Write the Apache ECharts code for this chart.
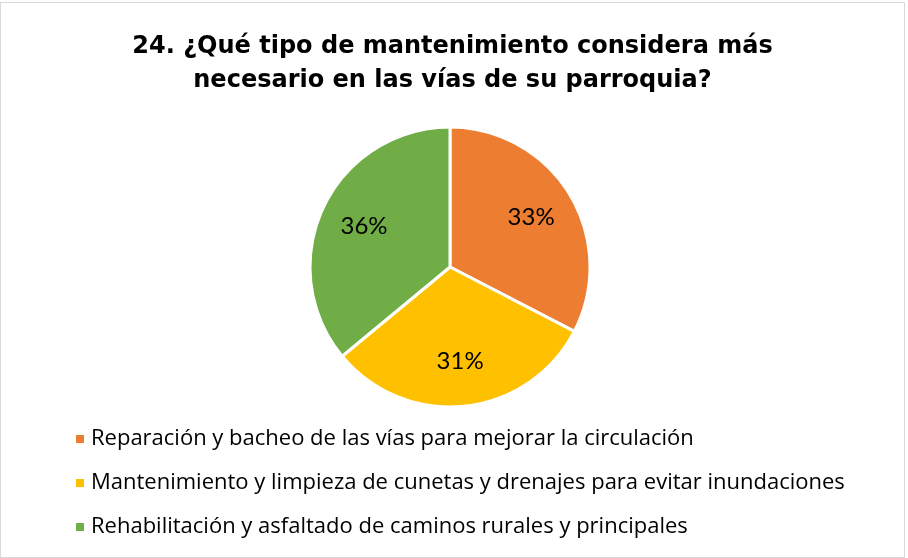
<!DOCTYPE html>
<html>
<head>
<meta charset="utf-8">
<script src="https://cdn.jsdelivr.net/npm/echarts@6/dist/echarts.min.js"></script>
<style>
  html, body { margin: 0; padding: 0; background: #fff; }
  #chart { position: absolute; left: 0; top: 2px; width: 905px; height: 556px; border: 1px solid #d9d9d9; box-sizing: border-box; }
</style>
</head>
<body>
<div id="chart"></div>
<script>
// categorias y valores (porcentajes)
const categories = [
  'Reparación y bacheo de las vías para mejorar la circulación',
  'Mantenimiento y limpieza de cunetas y drenajes para evitar inundaciones',
  'Rehabilitación y asfaltado de caminos rurales y principales'
]
const values = [32.6, 31.4, 36.0]
const colors = ['#ED7D31', '#FFC000', '#70AD47']

const chart = echarts.init(document.getElementById('chart'))

const data = categories.map((name, i) => ({ name: name, value: values[i] }))

const option = {
  color: colors,
  title: {
    text: '24. ¿Qué tipo de mantenimiento considera más\nnecesario en las vías de su parroquia?',
    left: 'center',
    top: 22,
    textStyle: {
      fontFamily: 'DejaVu Sans',
      fontWeight: 'bold',
      fontSize: 24,
      lineHeight: 34,
      color: '#000'
    }
  },
  legend: {
    orient: 'vertical',
    left: 68,
    top: 420,
    itemWidth: 10,
    itemHeight: 10,
    itemGap: 22,
    icon: 'rect',
    textStyle: {
      fontFamily: 'Open Sans',
      fontSize: 22,
      lineHeight: 22,
      color: '#000',
      padding: [0, 0, 0, 1]
    },
    data: categories
  },
  series: [
    {
      // porciones
      type: 'pie',
      center: [449, 264],
      radius: 140,
      startAngle: 90,
      silent: true,
      itemStyle: { borderColor: '#fff', borderWidth: 3 },
      label: { show: false },
      data: data
    },
    {
      // etiquetas de porcentaje
      type: 'pie',
      center: [449, 264],
      radius: [44, 140],
      startAngle: 90,
      silent: true,
      legendHoverLink: false,
      itemStyle: { color: 'transparent' },
      label: {
        show: true,
        position: 'inside',
        fontFamily: 'Lato',
        fontSize: 24,
        color: '#000',
        formatter: p => Math.round(p.percent) + '%'
      },
      data: data.map(d => ({ name: d.name + ' ', value: d.value }))
    }
  ]
}

chart.setOption(option)
</script>
</body>
</html>
